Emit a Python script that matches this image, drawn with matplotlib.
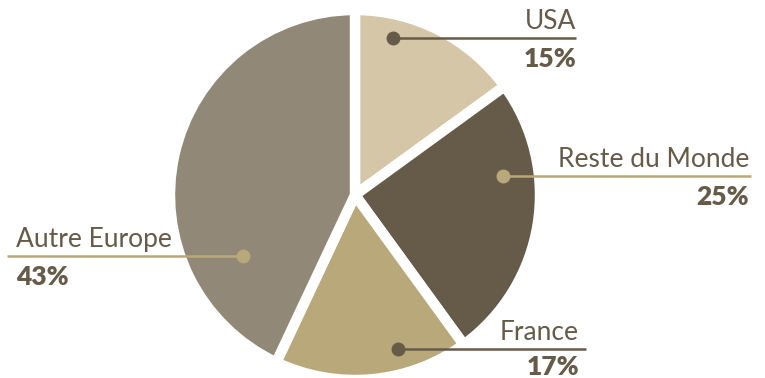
import matplotlib
matplotlib.use("Agg")
import matplotlib.pyplot as plt

labels = ["USA", "Reste du Monde", "France", "Autre Europe"]
values = [15, 25, 17, 43]
colors = ["#D4C6A6", "#665B48", "#B8A87A", "#918877"]

W, H = 765, 378
fig = plt.figure(figsize=(W / 100, H / 100), dpi=100)
ax = fig.add_axes([0, 0, 1, 1])

cx, cy, R = 355, H - 195, 185
ax.pie(values, colors=colors, startangle=90, counterclock=False,
       center=(cx, cy), radius=R,
       wedgeprops=dict(edgecolor="white", linewidth=7.5))
ax.set_xlim(0, W)
ax.set_ylim(0, H)
ax.set_aspect("equal")
ax.axis("off")

dark = "#665B48"
tan = "#B8A87A"
font = "Lato"

# annotation layout: (dot x, dot y, line end x, text x, ha, line/dot colour)
layout = {
    "USA": (393, 38, 576, 576, "right", dark),
    "Reste du Monde": (503, 176, 751, 749, "right", tan),
    "France": (398, 349, 586, 579, "right", dark),
    "Autre Europe": (243, 256, 7, 16, "left", tan),
}

for lab, val in zip(labels, values):
    dx, dy, lx, tx, ha, c = layout[lab]
    y = H - dy
    off = 6 if lab == "France" else 9
    ax.plot([dx, lx], [y, y], color=c, lw=1.8, solid_capstyle="butt", zorder=3)
    ax.plot([dx], [y], "o", color=c, ms=9, zorder=4)
    ax.text(tx, y + 4, lab, ha=ha, va="bottom", fontsize=19, color=dark,
            family=font)
    ax.text(tx, y - off, f"{val}%", ha=ha, va="top", fontsize=19, color=dark,
            family=font, fontweight="heavy")

fig.savefig("out.png", dpi=100, facecolor="white")
